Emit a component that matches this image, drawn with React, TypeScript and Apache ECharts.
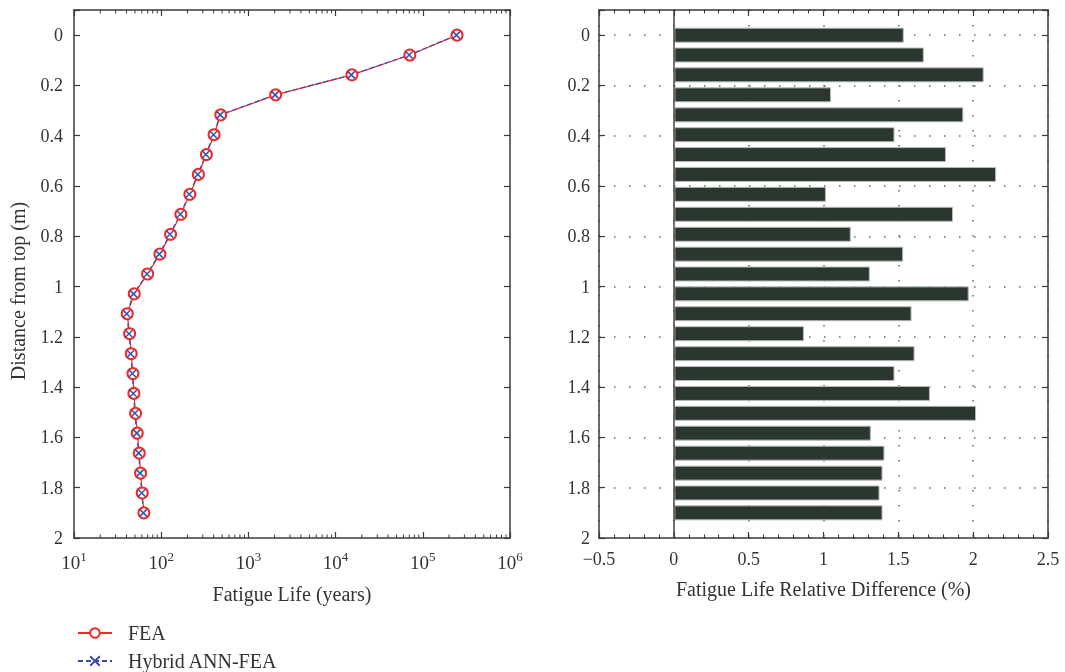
import React, { useEffect, useRef } from "react";
import * as echarts from "echarts";

const depths = [0, 0.079, 0.158, 0.2375, 0.317, 0.396, 0.475, 0.554, 0.633, 0.7125, 0.792, 0.871, 0.95, 1.029, 1.108, 1.1875, 1.267, 1.346, 1.425, 1.504, 1.583, 1.6625, 1.742, 1.821, 1.9];
const feaLife = [247000, 71000, 15400, 2056, 482, 404, 330, 267, 213, 168, 128, 96.6, 69.8, 49.1, 40.8, 43.4, 45.3, 47.4, 48.6, 50.8, 53.1, 56.0, 58.0, 60.6, 63.3];
const hybridLife = [243000, 69800, 15150, 2025, 475, 398, 325, 263, 210, 165.5, 126, 95, 68.7, 48.2, 40.2, 42.7, 44.6, 46.7, 47.9, 49.8, 52.4, 55.2, 57.2, 59.8, 62.4];
const relDiff = [1.533, 1.667, 2.067, 1.047, 1.931, 1.471, 1.815, 2.15, 1.013, 1.862, 1.179, 1.529, 1.306, 1.967, 1.585, 0.866, 1.605, 1.471, 1.708, 2.016, 1.313, 1.404, 1.391, 1.371, 1.391];
const logMinorTicks = [20, 30, 40, 50, 60, 70, 80, 90, 200, 300, 400, 500, 600, 700, 800, 900, 2000, 3000, 4000, 5000, 6000, 7000, 8000, 9000, 20000, 30000, 40000, 50000, 60000, 70000, 80000, 90000, 200000, 300000, 400000, 500000, 600000, 700000, 800000, 900000];

const FONT = "Liberation Serif";
const TXT = "#333";
const FRAME = "#3a3a3a";

export default function App() {
  const ref = useRef<HTMLDivElement>(null);
  useEffect(() => {
    const chart = echarts.init(ref.current!, null, { renderer: "svg" });
    const axisLine = { show: true, onZero: false, lineStyle: { color: FRAME, width: 1.5 } };
    const tickIn = (len: number) => ({ show: true, inside: true, length: len, lineStyle: { color: FRAME, width: 1.2 } });
    const dotted = { show: true, lineStyle: { color: "#666", width: 1.5, type: [1.5, 13.5] as any } };
    const label = { fontFamily: FONT, fontSize: 18, color: TXT };
    const depthFmt = (v: number) => (v < -0.001 ? "" : String(Math.round(v * 10) / 10));
    const yBase = { type: "value", min: -0.1, max: 2, inverse: true, splitNumber: 10 };
    const xFmt = (v: number) => String(v).replace("-", "\u2212");
    const nameStyle = { fontFamily: FONT, fontSize: 20, color: TXT };

    chart.setOption({
      animation: false,
      textStyle: { fontFamily: FONT },
      grid: [
        { left: 74, right: 555, top: 10, bottom: 134 },
        { left: 599, right: 17, top: 10, bottom: 134 },
      ],
      legend: {
        orient: "vertical",
        left: 77,
        bottom: 1,
        padding: 0,
        itemWidth: 34,
        itemHeight: 12,
        itemGap: 8,
        textStyle: { fontFamily: FONT, fontSize: 20, color: TXT, padding: [0, 0, 0, 11] },
        data: ["FEA", "Hybrid ANN-FEA"],
      },
      xAxis: [
        {
          type: "log", logBase: 10, min: 10, max: 1000000, gridIndex: 0, position: "bottom",
          axisLine, axisTick: tickIn(6), splitLine: { show: false },
          axisLabel: {
            ...label, fontSize: 19, margin: 12,
            formatter: (v: number) => "10{s|" + Math.round(Math.log10(v)) + "}",
            rich: { s: { fontFamily: FONT, fontSize: 13, color: TXT, padding: [0, 0, 11, 0] } },
          },
          name: "Fatigue Life (years)", nameLocation: "middle", nameGap: 46, nameTextStyle: nameStyle,
        },
        {
          type: "log", logBase: 10, min: 10, max: 1000000, gridIndex: 0, position: "top",
          axisLine, axisTick: tickIn(6), axisLabel: { show: false }, splitLine: { show: false },
        },
        {
          type: "value", min: -0.5, max: 2.5, interval: 0.5, gridIndex: 1, position: "bottom",
          axisLine, axisTick: tickIn(6),
          minorTick: { show: true, splitNumber: 5, length: 3.5, lineStyle: { color: FRAME, width: 1 } },
          splitLine: dotted,
          axisLabel: { ...label, margin: 12, formatter: xFmt },
          name: "Fatigue Life Relative Difference (%)", nameLocation: "middle", nameGap: 41, nameTextStyle: nameStyle,
        },
        {
          type: "value", min: -0.5, max: 2.5, interval: 0.5, gridIndex: 1, position: "top",
          axisLine, axisTick: tickIn(6),
          minorTick: { show: true, splitNumber: 5, length: 3.5, lineStyle: { color: FRAME, width: 1 } },
          axisLabel: { show: false }, splitLine: { show: false },
        },
      ],
      yAxis: [
        {
          ...yBase, gridIndex: 0, position: "left", axisLine, axisTick: tickIn(6), splitLine: { show: false },
          axisLabel: { ...label, margin: 11, formatter: depthFmt },
          name: "Distance from top (m)", nameLocation: "middle", nameGap: 46, nameRotate: 90,
          nameTextStyle: { ...nameStyle, padding: [0, 34, 0, 0] },
        },
        { ...yBase, gridIndex: 0, position: "right", axisLine, axisTick: tickIn(6), splitLine: { show: false }, axisLabel: { show: false } },
        {
          ...yBase, gridIndex: 1, position: "left", axisLine, axisTick: tickIn(6), splitLine: dotted,
          axisLabel: { ...label, margin: 9, formatter: depthFmt },
        },
        { ...yBase, gridIndex: 1, position: "right", axisLine, axisTick: tickIn(6), splitLine: { show: false }, axisLabel: { show: false } },
      ],
      series: [
        {
          type: "custom", name: "minorLog", xAxisIndex: 0, yAxisIndex: 0, silent: true, clip: false,
          data: logMinorTicks.map((v) => [v, 0]),
          renderItem: (params: any, api: any) => {
            const p = api.coord([api.value(0), 0]);
            const cs = params.coordSys;
            const st = { stroke: FRAME, lineWidth: 1 };
            return {
              type: "group",
              children: [
                { type: "line", shape: { x1: p[0], y1: cs.y + cs.height, x2: p[0], y2: cs.y + cs.height - 3.5 }, style: st },
                { type: "line", shape: { x1: p[0], y1: cs.y, x2: p[0], y2: cs.y + 3.5 }, style: st },
              ],
            };
          },
        },
        {
          type: "line", name: "FEA", xAxisIndex: 0, yAxisIndex: 0,
          data: feaLife.map((v, i) => [v, depths[i]]),
          symbol: "emptyCircle", symbolSize: 11,
          lineStyle: { color: "#ee2a2a", width: 1.2 },
          itemStyle: { color: "#ee2a2a", borderColor: "#ee2a2a", borderWidth: 1.3 },
        },
        {
          type: "line", name: "Hybrid ANN-FEA", xAxisIndex: 0, yAxisIndex: 0,
          data: hybridLife.map((v, i) => [v, depths[i]]),
          symbol: "path://M0,0L10,10M10,0L0,10", symbolSize: 7,
          lineStyle: { color: "#3b4fa6", width: 1.2, type: [5, 3] },
          itemStyle: { color: "none", borderColor: "#3b4fa6", borderWidth: 1.5 },
        },
        {
          type: "custom", name: "diff", xAxisIndex: 2, yAxisIndex: 2, clip: true,
          data: relDiff.map((v, i) => [v, depths[i]]),
          encode: { x: 0, y: 1 },
          renderItem: (params: any, api: any) => {
            const d = api.value(1);
            const s = api.coord([0, d]);
            const e = api.coord([api.value(0), d]);
            return {
              type: "rect",
              shape: { x: s[0] + 1, y: s[1] - 7, width: e[0] - s[0] - 1, height: 14 },
              style: { fill: "#29372f", stroke: "#b8bcb9", lineWidth: 1 },
            };
          },
          markLine: {
            silent: true, symbol: "none", label: { show: false },
            lineStyle: { color: "#444", width: 1.5, type: "solid" },
            data: [{ xAxis: 0 }],
          },
        },
      ],
    });
    return () => chart.dispose();
  }, []);
  return <div ref={ref} style={{ position: "fixed", left: 0, top: 0, width: 1065, height: 672 }} />;
}
